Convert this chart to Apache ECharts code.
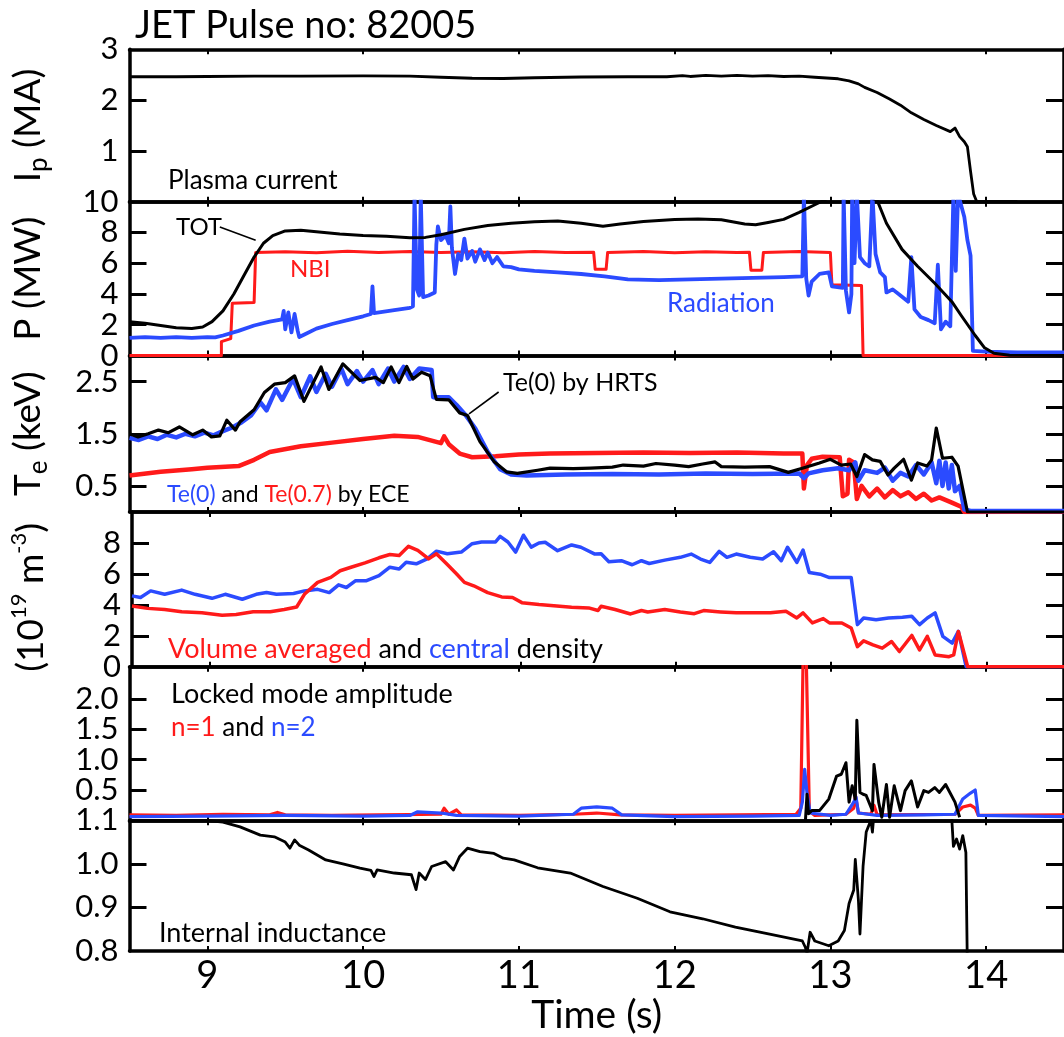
<!DOCTYPE html>
<html><head><meta charset="utf-8">
<script src="https://cdn.jsdelivr.net/npm/echarts@6/dist/echarts.min.js"></script>
<style>html,body{margin:0;padding:0;background:#fff}#c{width:1064px;height:1037px}</style>
</head><body><div id="c"></div>
<script>
// ---------------- DATA (time in s) ----------------
const timeTicks = [9, 10, 11, 12, 13, 14];
const ipTicks = [1, 2, 3];
const pTicks = [0, 2, 4, 6, 8, 10];
const teTicks = [0.5, 1.5, 2.5];
const neTicks = [0, 2, 4, 6, 8];
const lmTicks = [0.5, 1.0, 1.5, 2.0];
const liTicks = [0.8, 0.9, 1.0, 1.1];

const plasmaCurrent = [[8.5,2.46],[8.8,2.46],[9.0,2.465],[9.3,2.47],[9.6,2.47],[10.0,2.475],[10.3,2.47],[10.5,2.45],[10.7,2.43],[10.9,2.425],[11.1,2.44],[11.4,2.455],[11.7,2.46],[11.95,2.46],[12.05,2.48],[12.1,2.465],[12.2,2.485],[12.3,2.47],[12.4,2.485],[12.5,2.47],[12.6,2.48],[12.7,2.465],[12.8,2.47],[12.9,2.45],[13.0,2.43],[13.05,2.42],[13.12,2.38],[13.18,2.32],[13.22,2.25],[13.3,2.15],[13.38,2.02],[13.45,1.9],[13.52,1.75],[13.6,1.62],[13.68,1.5],[13.77,1.38],[13.8,1.45],[13.83,1.28],[13.86,1.18],[13.88,1.08],[13.9,0.6],[13.92,0.15],[13.94,0],[14.2,0]];

const powerTot = [[8.5,2.2],[8.6,2.1],[8.7,1.95],[8.8,1.8],[8.9,1.75],[8.97,1.85],[9.03,2.2],[9.1,2.9],[9.17,4.0],[9.24,5.3],[9.3,6.4],[9.36,7.3],[9.42,7.8],[9.5,8.1],[9.6,8.15],[9.7,8.05],[9.85,7.9],[10.0,7.8],[10.15,7.75],[10.3,7.65],[10.4,7.68],[10.5,7.85],[10.65,8.2],[10.8,8.45],[10.95,8.6],[11.1,8.7],[11.25,8.75],[11.4,8.6],[11.54,8.4],[11.65,8.55],[11.8,8.72],[12.0,8.85],[12.15,8.88],[12.3,8.82],[12.45,8.55],[12.52,8.5],[12.6,8.65],[12.7,8.85],[12.8,9.3],[12.9,9.8],[13.0,10.3],[13.15,10.6],[13.3,10.1],[13.36,8.6],[13.46,6.9],[13.56,5.8],[13.67,4.7],[13.78,3.5],[13.84,2.6],[13.93,1.3],[13.99,0.5],[14.05,0.15],[14.15,0.02],[14.5,0]];

const powerNbi = [[8.5,0],[9.09,0],[9.09,0.9],[9.15,1.1],[9.16,3.4],[9.3,3.45],[9.31,6.7],[9.5,6.75],[9.7,6.68],[9.9,6.78],[10.1,6.7],[10.3,6.76],[10.5,6.7],[10.7,6.75],[10.9,6.68],[11.1,6.76],[11.3,6.7],[11.48,6.72],[11.49,5.6],[11.56,5.6],[11.57,6.7],[11.8,6.76],[12.0,6.68],[12.2,6.75],[12.4,6.7],[12.48,6.72],[12.49,5.55],[12.56,5.55],[12.57,6.7],[12.8,6.76],[13.0,6.7],[13.01,4.6],[13.2,4.55],[13.21,0],[14.5,0]];

const powerRad = [[8.5,1.15],[8.6,1.2],[8.7,1.14],[8.8,1.2],[8.9,1.15],[9.0,1.2],[9.05,1.18],[9.1,1.3],[9.2,1.6],[9.3,1.95],[9.4,2.2],[9.48,2.35],[9.49,2.9],[9.5,1.7],[9.52,2.8],[9.54,1.5],[9.56,2.7],[9.58,1.6],[9.59,1.2],[9.62,1.35],[9.7,1.75],[9.8,2.05],[9.9,2.3],[10.0,2.55],[10.05,2.7],[10.06,4.5],[10.07,2.75],[10.2,2.95],[10.3,3.1],[10.32,3.2],[10.33,10.5],[10.345,4.3],[10.36,3.9],[10.37,10.5],[10.385,3.8],[10.42,3.9],[10.46,4.1],[10.47,7.2],[10.48,8.4],[10.5,7.5],[10.53,7.8],[10.55,7.3],[10.56,9.7],[10.57,7.0],[10.59,5.3],[10.61,6.6],[10.63,6.2],[10.65,7.6],[10.67,6.3],[10.7,6.8],[10.72,6.1],[10.75,6.9],[10.78,6.2],[10.8,6.7],[10.83,6.0],[10.86,6.4],[10.9,5.8],[10.95,5.75],[11.0,5.6],[11.1,5.5],[11.25,5.4],[11.4,5.3],[11.55,5.15],[11.7,4.95],[11.9,4.9],[12.1,4.95],[12.3,5.0],[12.5,5.05],[12.7,5.1],[12.82,5.15],[12.83,10.5],[12.845,5.0],[12.86,3.9],[12.88,4.8],[12.93,5.3],[12.99,5.4],[13.01,4.5],[13.08,4.4],[13.085,10.5],[13.1,4.2],[13.12,2.8],[13.135,4.0],[13.14,10.5],[13.155,6.0],[13.17,10.5],[13.19,6.4],[13.22,6.0],[13.25,5.8],[13.27,10.5],[13.29,6.6],[13.32,5.4],[13.35,5.1],[13.36,4.1],[13.4,4.3],[13.45,3.9],[13.5,3.5],[13.52,6.4],[13.54,3.0],[13.58,2.5],[13.63,2.3],[13.67,2.1],[13.69,5.9],[13.71,1.7],[13.74,2.2],[13.77,1.9],[13.79,10.5],[13.805,5.5],[13.82,10.5],[13.86,9.0],[13.88,7.5],[13.9,6.5],[13.915,0.3],[14.0,0.25],[14.2,0.2],[14.5,0.2]];

const teHrts = [[8.5,1.5],[8.555,1.44],[8.62,1.5],[8.686,1.57],[8.75,1.52],[8.82,1.63],[8.906,1.48],[8.97,1.57],[9.026,1.44],[9.08,1.46],[9.125,1.76],[9.18,1.57],[9.21,1.73],[9.3,1.96],[9.366,2.29],[9.43,2.45],[9.5,2.48],[9.56,2.61],[9.62,2.12],[9.73,2.78],[9.78,2.35],[9.87,2.84],[9.98,2.52],[10.08,2.58],[10.13,2.48],[10.18,2.78],[10.23,2.48],[10.28,2.79],[10.32,2.55],[10.375,2.68],[10.43,2.61],[10.47,2.16],[10.55,2.15],[10.62,1.9],[10.67,1.85],[10.75,1.35],[10.84,0.97],[10.92,0.77],[10.99,0.74],[11.12,0.8],[11.2,0.84],[11.35,0.83],[11.46,0.84],[11.6,0.86],[11.67,0.9],[11.8,0.88],[11.88,0.93],[12.0,0.9],[12.09,0.87],[12.18,0.92],[12.26,0.96],[12.3,0.87],[12.45,0.86],[12.61,0.87],[12.73,0.76],[12.82,0.84],[12.93,0.94],[13.0,1.01],[13.07,0.9],[13.13,0.92],[13.17,0.68],[13.22,1.1],[13.27,1.0],[13.32,0.97],[13.37,0.71],[13.41,0.84],[13.47,1.01],[13.52,0.61],[13.56,0.94],[13.62,0.88],[13.65,1.0],[13.68,1.61],[13.72,1.03],[13.78,1.05],[13.82,0.88],[13.88,0],[14.5,0]];

const teEce0 = [[8.5,1.42],[8.56,1.38],[8.62,1.45],[8.68,1.4],[8.74,1.48],[8.8,1.43],[8.86,1.5],[8.92,1.45],[8.98,1.52],[9.04,1.47],[9.1,1.55],[9.16,1.62],[9.22,1.72],[9.28,1.85],[9.34,2.1],[9.38,1.95],[9.44,2.35],[9.48,2.15],[9.55,2.55],[9.6,2.2],[9.66,2.6],[9.7,2.3],[9.76,2.65],[9.8,2.4],[9.86,2.75],[9.9,2.45],[9.96,2.7],[10.0,2.5],[10.06,2.72],[10.1,2.45],[10.16,2.75],[10.2,2.5],[10.26,2.78],[10.3,2.55],[10.36,2.75],[10.44,2.72],[10.45,2.2],[10.55,2.2],[10.6,2.05],[10.66,1.85],[10.72,1.6],[10.8,1.15],[10.88,0.82],[10.95,0.72],[11.05,0.7],[11.3,0.72],[11.6,0.73],[11.9,0.72],[12.2,0.74],[12.5,0.73],[12.8,0.74],[12.83,0.65],[12.86,0.74],[12.95,0.8],[13.05,0.84],[13.12,0.8],[13.16,0.95],[13.18,0.6],[13.22,0.8],[13.3,0.75],[13.35,0.85],[13.4,0.6],[13.45,0.75],[13.5,0.68],[13.55,0.9],[13.6,0.72],[13.65,0.95],[13.68,0.55],[13.7,0.98],[13.72,0.5],[13.74,0.95],[13.76,0.45],[13.78,0.9],[13.8,0.4],[13.83,0.5],[13.86,0.05],[13.9,0.02],[14.5,0.02]];

const teEce07 = [[8.5,0.7],[8.7,0.77],[8.9,0.82],[9.0,0.85],[9.2,0.88],[9.3,1.0],[9.4,1.15],[9.6,1.26],[9.8,1.33],[10.0,1.4],[10.2,1.46],[10.35,1.44],[10.5,1.32],[10.52,1.45],[10.55,1.3],[10.62,1.12],[10.7,1.05],[10.85,1.07],[11.0,1.1],[11.2,1.12],[11.5,1.13],[11.8,1.14],[12.1,1.13],[12.4,1.14],[12.7,1.12],[12.82,1.12],[12.83,0.45],[12.85,0.9],[12.88,1.02],[12.95,1.06],[13.06,1.05],[13.08,0.3],[13.11,0.35],[13.12,1.0],[13.15,0.95],[13.17,0.25],[13.2,0.5],[13.25,0.3],[13.3,0.45],[13.35,0.28],[13.4,0.42],[13.45,0.3],[13.5,0.38],[13.55,0.25],[13.6,0.35],[13.65,0.22],[13.7,0.28],[13.78,0.18],[13.84,0.1],[13.86,0],[14.5,0.01]];

const densCentral = [[8.5,4.58],[8.555,4.47],[8.62,4.9],[8.71,4.68],[8.82,4.95],[8.906,4.68],[9.015,4.42],[9.1,4.68],[9.21,4.36],[9.3,4.68],[9.366,4.79],[9.43,4.68],[9.54,4.73],[9.61,4.9],[9.695,5.0],[9.77,4.79],[9.83,5.29],[9.88,5.12],[9.94,5.56],[10.01,5.56],[10.09,5.88],[10.16,6.43],[10.22,6.32],[10.265,6.75],[10.33,6.65],[10.4,6.97],[10.46,7.47],[10.53,7.3],[10.62,7.41],[10.69,7.95],[10.75,8.06],[10.84,8.06],[10.87,8.43],[10.92,8.06],[10.97,7.41],[11.02,8.5],[11.07,7.73],[11.12,8.0],[11.16,8.04],[11.24,7.5],[11.33,7.87],[11.39,7.72],[11.48,7.28],[11.52,7.3],[11.57,6.78],[11.65,6.85],[11.72,6.59],[11.78,6.85],[11.83,6.67],[11.93,6.89],[12.03,7.07],[12.1,7.28],[12.16,6.96],[12.22,6.74],[12.28,7.46],[12.33,7.07],[12.39,7.28],[12.48,7.07],[12.56,6.96],[12.63,7.43],[12.68,6.85],[12.72,7.72],[12.78,6.74],[12.82,7.54],[12.86,6.09],[12.93,5.98],[12.99,5.76],[13.13,5.76],[13.17,2.72],[13.21,3.15],[13.29,3.04],[13.37,3.15],[13.46,3.2],[13.52,3.26],[13.57,2.72],[13.62,3.15],[13.67,3.48],[13.72,1.96],[13.78,1.52],[13.82,2.28],[13.87,0],[14.5,0]];

const densVolume = [[8.5,3.92],[8.6,3.77],[8.71,3.7],[8.82,3.55],[8.95,3.49],[9.08,3.33],[9.17,3.38],[9.28,3.55],[9.39,3.55],[9.48,3.7],[9.56,3.86],[9.61,4.68],[9.695,5.45],[9.78,5.77],[9.84,6.2],[9.91,6.43],[10.0,6.71],[10.09,7.04],[10.16,7.25],[10.22,7.19],[10.28,7.78],[10.34,7.52],[10.41,6.97],[10.46,7.3],[10.53,6.6],[10.59,5.99],[10.64,5.45],[10.7,5.23],[10.79,4.79],[10.88,4.51],[10.95,4.47],[11.01,4.14],[11.12,4.02],[11.33,3.85],[11.44,3.8],[11.5,3.63],[11.52,3.91],[11.61,3.7],[11.71,3.41],[11.78,3.63],[11.82,3.54],[11.93,3.7],[12.03,3.54],[12.12,3.43],[12.18,3.63],[12.29,3.54],[12.39,3.48],[12.5,3.48],[12.61,3.48],[12.71,3.59],[12.78,3.15],[12.82,3.48],[12.88,2.83],[12.95,3.11],[12.99,2.83],[13.07,2.83],[13.13,2.5],[13.17,1.3],[13.21,1.67],[13.27,1.41],[13.33,1.2],[13.39,1.63],[13.44,0.98],[13.52,2.02],[13.57,1.09],[13.62,1.96],[13.67,0.76],[13.76,0.65],[13.79,0.76],[13.82,2.28],[13.88,0],[14.5,0]];

const lockedN1 = [[8.5,0.09],[8.8,0.08],[9.1,0.1],[9.4,0.09],[9.45,0.13],[9.5,0.09],[9.8,0.08],[10.1,0.09],[10.5,0.1],[10.52,0.2],[10.55,0.1],[10.6,0.17],[10.63,0.09],[11.0,0.08],[11.35,0.1],[11.5,0.12],[11.65,0.09],[12.0,0.08],[12.4,0.09],[12.78,0.1],[12.81,0.2],[12.825,2.7],[12.845,2.7],[12.865,0.15],[12.9,0.08],[13.1,0.1],[13.15,0.2],[13.16,0.42],[13.18,0.12],[13.26,0.1],[13.28,0.25],[13.3,0.09],[13.8,0.1],[13.85,0.22],[13.9,0.25],[13.93,0.2],[13.95,0.08],[14.5,0.09]];

const lockedN2 = [[8.5,0.06],[9.0,0.07],[9.5,0.08],[10.0,0.07],[10.3,0.08],[10.35,0.14],[10.5,0.12],[10.6,0.08],[11.0,0.07],[11.35,0.1],[11.4,0.2],[11.5,0.22],[11.6,0.2],[11.66,0.09],[12.0,0.06],[12.5,0.07],[12.8,0.08],[12.82,0.3],[12.835,0.84],[12.85,0.45],[12.87,0.12],[13.0,0.08],[13.1,0.1],[13.15,0.3],[13.165,0.38],[13.18,0.12],[13.3,0.08],[13.6,0.09],[13.8,0.1],[13.85,0.35],[13.9,0.45],[13.93,0.5],[13.95,0.08],[14.5,0.06]];

const lockedTotal = [[12.84,0.0],[12.85,0.43],[12.86,0.11],[12.88,0.16],[12.93,0.16],[12.99,0.35],[13.04,0.73],[13.07,0.76],[13.1,0.95],[13.12,0.3],[13.14,0.57],[13.16,0.35],[13.17,1.65],[13.19,0.46],[13.21,0.43],[13.23,0.41],[13.27,0.16],[13.28,0.92],[13.31,0.3],[13.33,0.05],[13.36,0.59],[13.38,0.05],[13.41,0.57],[13.45,0.16],[13.48,0.49],[13.52,0.65],[13.56,0.22],[13.6,0.49],[13.63,0.46],[13.67,0.54],[13.7,0.46],[13.74,0.59],[13.8,0.3],[13.83,0.05]];

const internalInductance = [[8.5,1.1],[8.99,1.1],[9.1,1.096],[9.21,1.085],[9.34,1.066],[9.43,1.062],[9.5,1.05],[9.53,1.036],[9.56,1.055],[9.59,1.043],[9.65,1.032],[9.76,1.009],[9.87,1.0],[9.98,0.99],[10.05,0.985],[10.07,0.971],[10.09,0.986],[10.2,0.979],[10.31,0.975],[10.34,0.941],[10.36,0.979],[10.4,0.964],[10.44,0.994],[10.53,1.005],[10.58,0.986],[10.62,1.017],[10.67,1.036],[10.75,1.028],[10.84,1.024],[10.9,1.013],[10.97,1.009],[11.12,0.991],[11.33,0.979],[11.54,0.948],[11.76,0.921],[11.97,0.89],[12.18,0.874],[12.39,0.855],[12.61,0.839],[12.82,0.823],[12.84,0.808],[12.85,0.795],[12.87,0.843],[12.9,0.823],[12.99,0.812],[13.05,0.823],[13.09,0.847],[13.12,0.909],[13.15,0.94],[13.16,1.01],[13.18,0.917],[13.19,0.839],[13.21,0.995],[13.23,1.073],[13.26,1.1],[13.27,1.073],[13.3,1.2],[13.5,1.3],[13.75,1.2],[13.78,1.1],[13.79,1.04],[13.81,1.057],[13.83,1.034],[13.85,1.065],[13.87,1.026],[13.88,0.75]];

// leader lines for the annotations (data coordinates)
const totLeader = [[9.08, 8.35], [9.31, 7.5]];
const hrtsLeader = [[10.87, 2.3], [10.68, 1.88]];

// ---------------- LAYOUT / STYLE ----------------
const FONT = 'Lato';
const RED = '#ff1a1a', BLUE = '#2b4bff', BLACK = '#000';
const LEFT = 129.5, WIDTH = 942;
const AXW = 3.5;
const panels = [
  {top: 49.3,  h: 152.4, min: 0,   max: 3,     lab: ipTicks, tk: [1,2],          rtk: [1,2],              dec: 0,
   name: '{n|I}{sb|p}{n| (MA)}'},
  {top: 201.7, h: 153.8, min: 0,   max: 10,    lab: pTicks,  tk: [2,4,6,8],      rtk: [2,4,6,8],          dec: 0,
   name: '{n|P (MW)}'},
  {top: 355.5, h: 156.5, min: 0,   max: 3,     lab: teTicks, tk: teTicks,        rtk: [0.5,1,1.5,2,2.5],  dec: 1,
   name: '{n|T}{sb|e}{n| (keV)}'},
  {top: 512,   h: 154.7, min: 0,   max: 10,    lab: neTicks, tk: [2,4,6,8],      rtk: [2,4,6,8],          dec: 0,
   name: '{n|(10}{sp|19}{n| m}{sp|-3}{n|)}'},
  {top: 666.7, h: 153.6, min: 0,   max: 2.535, lab: lmTicks, tk: lmTicks,        rtk: lmTicks,            dec: 1, name: ''},
  {top: 820.3, h: 130.7, min: 0.8, max: 1.1,   lab: liTicks, tk: [0.9,1.0],      rtk: [0.9,1.0],          dec: 1, name: ''}
];

const nameRich = {
  n:  {fontFamily: FONT, fontSize: 37, color: BLACK, lineHeight: 46, verticalAlign: 'middle'},
  sb: {fontFamily: FONT, fontSize: 26, color: BLACK, lineHeight: 25, verticalAlign: 'bottom'},
  sp: {fontFamily: FONT, fontSize: 22, color: BLACK, lineHeight: 22, verticalAlign: 'top'}
};

const grid = [], xAxis = [], yAxis = [];
panels.forEach((p, i) => {
  grid.push({left: LEFT, width: WIDTH, top: p.top, height: p.h, containLabel: false});
});
panels.forEach((p, i) => {
  const last = i === panels.length - 1;
  xAxis.push({
    gridIndex: i, type: 'value', min: 8.5, max: 14.5, position: 'bottom',
    axisLine: {show: true, onZero: false, lineStyle: {color: BLACK, width: AXW}},
    axisTick: {show: true, inside: true, length: 5, customValues: timeTicks, lineStyle: {color: BLACK, width: 2}},
    axisLabel: {show: last, customValues: timeTicks, fontFamily: FONT, fontSize: 38, color: BLACK, margin: 6, hideOverlap: false},
    splitLine: {show: false},
    name: last ? 'Time (s)' : '', nameLocation: 'middle', nameGap: 40,
    nameTextStyle: {fontFamily: FONT, fontSize: 39, color: BLACK}
  });
});
panels.forEach((p, i) => {
  xAxis.push({
    gridIndex: i, type: 'value', min: 8.5, max: 14.5, position: 'top',
    axisLine: {show: true, onZero: false, lineStyle: {color: BLACK, width: AXW}},
    axisTick: {show: true, inside: true, length: 5, customValues: timeTicks, lineStyle: {color: BLACK, width: 2}},
    axisLabel: {show: false}, splitLine: {show: false}
  });
});
const labelStyle = (p, vals) => ({show: true, customValues: vals, fontFamily: FONT, fontSize: 31, color: BLACK, margin: 11,
  hideOverlap: false, showMinLabel: true, showMaxLabel: true, formatter: v => v.toFixed(p.dec)});
// main left axes (line, ticks, even-position labels, names)
panels.forEach((p, i) => {
  yAxis.push({
    gridIndex: i, type: 'value', min: p.min, max: p.max, position: 'left',
    axisLine: {show: true, onZero: false, lineStyle: {color: BLACK, width: AXW}},
    axisTick: {show: true, inside: true, length: 17, customValues: p.tk, lineStyle: {color: BLACK, width: 3}},
    axisLabel: labelStyle(p, p.lab.filter((v, k) => k % 2 === 0)),
    splitLine: {show: false},
    name: p.name, nameLocation: 'middle', nameRotate: 90, nameGap: 78,
    nameTextStyle: {fontFamily: FONT, fontSize: 37, color: BLACK, rich: nameRich,
      padding: i === 3 ? [0, 0, 0, -16] : 0}
  });
});
// right axes (inward ticks)
panels.forEach((p, i) => {
  yAxis.push({
    gridIndex: i, type: 'value', min: p.min, max: p.max, position: 'right',
    axisLine: {show: true, onZero: false, lineStyle: {color: BLACK, width: AXW}},
    axisTick: {show: true, inside: true, length: 18, customValues: p.rtk, lineStyle: {color: BLACK, width: 3}},
    axisLabel: {show: false}, splitLine: {show: false}
  });
});
// helper left axes carrying the odd-position labels (so crowded labels are never auto-hidden)
panels.forEach((p, i) => {
  yAxis.push({
    gridIndex: i, type: 'value', min: p.min, max: p.max, position: 'left', offset: 0,
    axisLine: {show: false}, axisTick: {show: false}, splitLine: {show: false},
    axisLabel: labelStyle(p, p.lab.filter((v, k) => k % 2 === 1))
  });
});

function line(data, gi, color, width, z, extra) {
  return Object.assign({
    type: 'line', data: data, xAxisIndex: gi, yAxisIndex: gi,
    showSymbol: false, symbol: 'none', clip: true, animation: false, silent: true,
    lineStyle: {color: color, width: width, join: 'round'}, z: z
  }, extra || {});
}
function leader(pts) {
  return {symbol: 'none', silent: true, animation: false, label: {show: false},
    lineStyle: {color: BLACK, width: 1.6, type: 'solid'},
    data: [[{coord: pts[0]}, {coord: pts[1]}]]};
}

const series = [
  line(plasmaCurrent, 0, BLACK, 2.8, 5),
  line(powerNbi, 1, RED, 3, 4),
  line(powerRad, 1, BLUE, 3.8, 5),
  line(powerTot, 1, BLACK, 3, 6, {markLine: leader(totLeader)}),
  line(teEce07, 2, RED, 4.5, 4),
  line(teEce0, 2, BLUE, 4.5, 5),
  line(teHrts, 2, BLACK, 3.2, 6, {markLine: leader(hrtsLeader)}),
  line(densVolume, 3, RED, 3.5, 5),
  line(densCentral, 3, BLUE, 3.5, 4),
  line(lockedN1, 4, RED, 3.2, 4),
  line(lockedN2, 4, BLUE, 3.2, 5),
  line(lockedTotal, 4, BLACK, 3, 6),
  line(internalInductance, 5, BLACK, 2.8, 5)
];

function txt(x, y, text, size, color, rich) {
  const st = {text: text, fill: color || BLACK, font: size + 'px ' + FONT, align: 'left', verticalAlign: 'middle'};
  if (rich) st.rich = rich;
  return {type: 'text', x: x, y: y, silent: true, z: 100, style: st};
}
const ann = (c, s) => ({fontFamily: FONT, fontSize: s, fill: c, color: c});
const richSet = (s) => ({r: ann(RED, s), b: ann(BLUE, s), k: ann(BLACK, s)});

const graphic = [
  txt(135, 26, 'JET Pulse no: 82005', 38),
  txt(168, 181, 'Plasma current', 26),
  txt(176, 227, 'TOT', 24),
  txt(290, 269, 'NBI', 24, RED),
  txt(667, 304, 'Radiation', 26, BLUE),
  txt(503, 383, 'Te(0) by HRTS', 25),
  txt(167, 495, '{b|Te(0)}{k| and }{r|Te(0.7)}{k| by ECE}', 23, BLACK, richSet(23)),
  txt(168, 649, '{r|Volume averaged}{k| and }{b|central}{k| density}', 27, BLACK, richSet(27)),
  txt(171, 694, 'Locked mode amplitude', 27),
  txt(171, 728, '{r|n=1}{k| and }{b|n=2}', 26, BLACK, richSet(26)),
  txt(159, 933, 'Internal inductance', 27)
];

const chart = echarts.init(document.getElementById('c'), null, {renderer: 'canvas'});
chart.setOption({
  animation: false,
  backgroundColor: '#fff',
  textStyle: {fontFamily: FONT},
  grid: grid, xAxis: xAxis, yAxis: yAxis, series: series, graphic: graphic
});
</script>
</body></html>
